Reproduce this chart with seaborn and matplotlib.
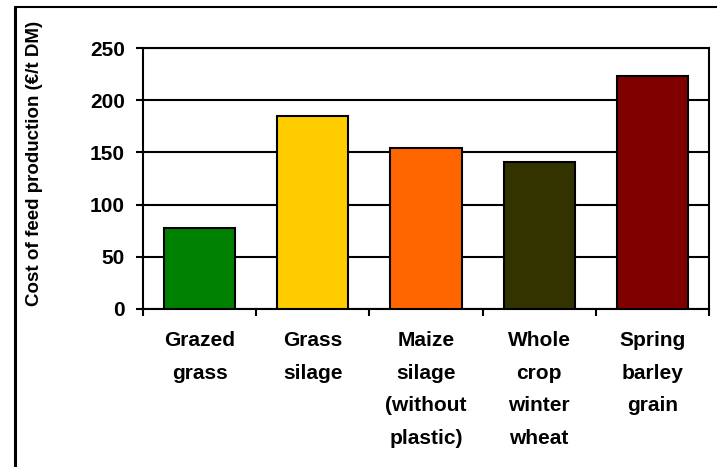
import matplotlib
matplotlib.use("Agg")
import matplotlib.pyplot as plt
from matplotlib.lines import Line2D
import seaborn as sns
import pandas as pd

categories = ["Grazed\ngrass", "Grass\nsilage", "Maize\nsilage\n(without\nplastic)",
              "Whole\ncrop\nwinter\nwheat", "Spring\nbarley\ngrain"]
costs = [78, 185, 154, 141, 223]
colors = ["#008000", "#FFCC00", "#FF6600", "#333300", "#800000"]
y_ticks = [0, 50, 100, 150, 200, 250]

sns.set_style("white")
plt.rcParams["font.family"] = ["Liberation Sans", "DejaVu Sans"]
plt.rcParams["font.weight"] = "bold"
plt.rcParams["text.color"] = "black"
plt.rcParams["xtick.color"] = "black"
plt.rcParams["ytick.color"] = "black"

df = pd.DataFrame({"feed": categories, "cost": costs})

fig = plt.figure(figsize=(7.17, 4.67), dpi=100)
ax = fig.add_axes([143 / 717, 1 - 309 / 467, (709 - 143) / 717, (309 - 48) / 467])

sns.barplot(data=df, x="feed", y="cost", hue="feed", palette=colors, legend=False,
            width=0.63, edgecolor="black", linewidth=1.5, saturation=1, ax=ax, zorder=3)

ax.set_ylim(0, 250)
ax.set_yticks(y_ticks)
ax.set_xlim(-0.5, 4.5)
ax.grid(axis="y", color="black", linewidth=1.5, zorder=0)
ax.set_axisbelow(True)
for s in ax.spines.values():
    s.set_color("black")
    s.set_linewidth(1.5)

ax.set_xlabel("")
ax.set_ylabel("")
ax.tick_params(axis="y", direction="out", length=5, width=1.5, pad=8,
               labelsize=15, left=True, labelcolor="black")
ax.tick_params(axis="x", which="major", length=0, pad=16, labelsize=15, labelcolor="black")
ax.set_xticks([i - 0.5 for i in range(6)], minor=True)
ax.tick_params(axis="x", which="minor", direction="out", length=5, width=1.5, bottom=True)
for lab in ax.get_xticklabels():
    lab.set_linespacing(1.9)
    lab.set_fontweight("bold")
for lab in ax.get_yticklabels():
    lab.set_fontweight("bold")

fig.text(35 / 717, 1 - 163 / 467, "Cost of feed production (€/t DM)", rotation=90,
         ha="center", va="center", fontsize=13.5, fontweight="bold", color="black")

# outer frame (left and top edges)
fig.add_artist(Line2D([15 / 717, 15 / 717], [0, 1 - 7 / 467], color="black", linewidth=2.2,
                      transform=fig.transFigure))
fig.add_artist(Line2D([15 / 717, 1], [1 - 7 / 467, 1 - 7 / 467], color="black", linewidth=1.5,
                      transform=fig.transFigure))

fig.savefig("out.png", dpi=100)
